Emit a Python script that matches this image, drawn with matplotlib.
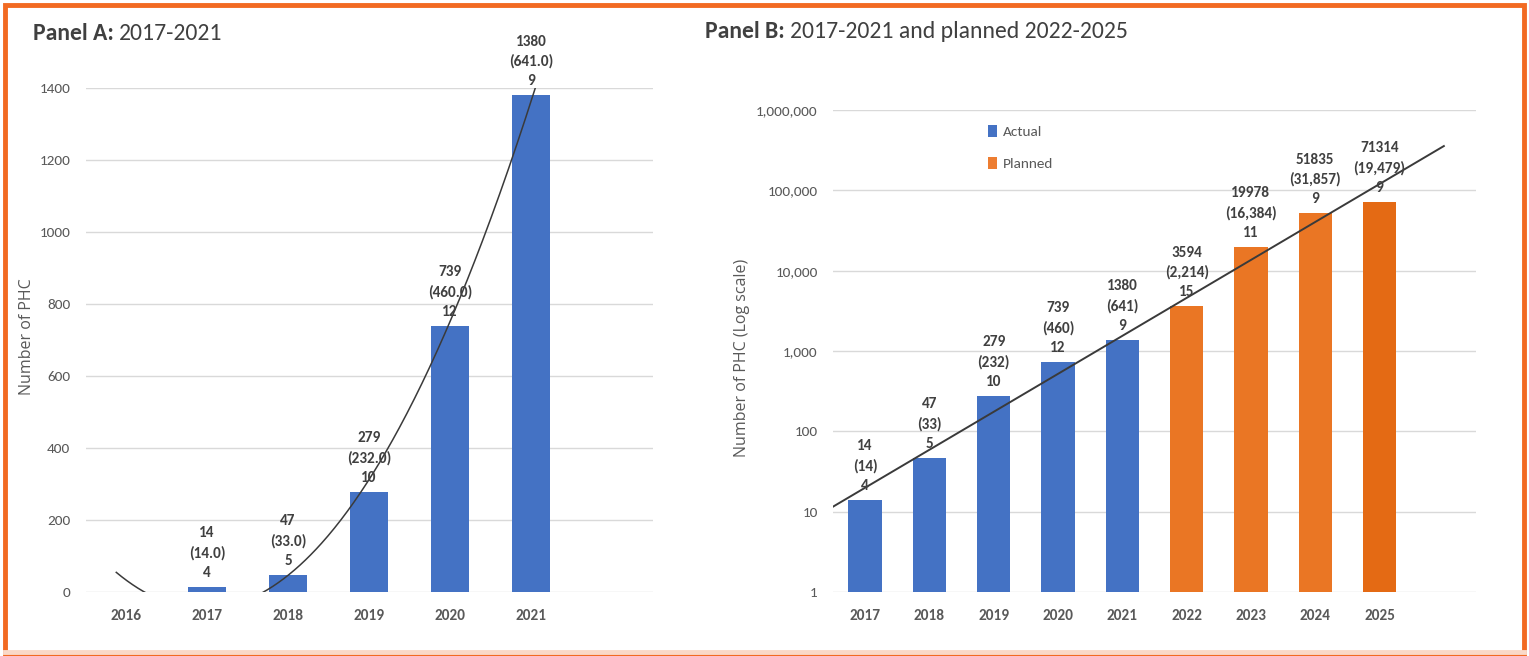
import matplotlib
matplotlib.use("Agg")
import matplotlib.pyplot as plt
import numpy as np
from matplotlib import font_manager
from matplotlib.patches import Patch, Rectangle
from matplotlib.lines import Line2D
from matplotlib.ticker import FuncFormatter, FixedLocator, NullLocator

# ---- data -------------------------------------------------------------
years_a = ["2016", "2017", "2018", "2019", "2020", "2021"]
phc_a = [0, 14, 47, 279, 739, 1380]          # cumulative PHC, none in 2016
added_a = ["", "(14.0)", "(33.0)", "(232.0)", "(460.0)", "(641.0)"]
count_a = ["", "4", "5", "10", "12", "9"]

years_b = ["2017", "2018", "2019", "2020", "2021", "2022", "2023", "2024", "2025"]
phc_b = [14, 47, 279, 739, 1380, 3594, 19978, 51835, 71314]
added_b = ["(14)", "(33)", "(232)", "(460)", "(641)", "(2,214)", "(16,384)", "(31,857)", "(19,479)"]
count_b = ["4", "5", "10", "12", "9", "15", "11", "9", "9"]
status_b = ["Actual"] * 5 + ["Planned"] * 4

# ---- style ------------------------------------------------------------
W, H, DPI = 1529, 656, 100
names = {f.name for f in font_manager.fontManager.ttflist}


def pick(*cands):
    for c in cands:
        if c in names:
            return c
    return "DejaVu Sans"


NARROW = pick("Carlito", "Liberation Sans Narrow", "Roboto Condensed", "Lato")
WIDE = pick("Open Sans", "Noto Sans")

BLUE = "#4472C4"
ORANGE = "#EA7624"
ORANGE_DARK = "#E46A14"
GRID = "#D9D9D9"
TICK = "#595959"
LABEL = "#404040"
FRAME = "#F26A22"

fig = plt.figure(figsize=(W / DPI, H / DPI), dpi=DPI)


def px_axes(left, top, right, bottom):
    return fig.add_axes([left / W, 1 - bottom / H, (right - left) / W, (bottom - top) / H])


def style_axes(ax):
    for s in ax.spines.values():
        s.set_visible(False)
    ax.tick_params(length=0)
    ax.grid(axis="y", color=GRID, linewidth=1.0)
    ax.set_axisbelow(True)
    for lab in ax.get_yticklabels():
        lab.set_fontfamily(NARROW)
        lab.set_fontsize(11)
        lab.set_color(TICK)
    for lab in ax.get_xticklabels():
        lab.set_fontfamily(NARROW)
        lab.set_fontsize(11)
        lab.set_fontweight("bold")
        lab.set_color(TICK)
    ax.tick_params(axis="y", pad=11)
    ax.tick_params(axis="x", pad=12)


def bar_labels(ax, xs, vals, added, counts):
    for x, v, a, c in zip(xs, vals, added, counts):
        if not a:
            continue
        ax.annotate(f"{v}\n{a}\n{c}", (x, v), xytext=(0, 5), textcoords="offset points",
                    ha="center", va="bottom", fontfamily=NARROW, fontsize=11,
                    fontweight="bold", color=LABEL, linespacing=1.5,
                    annotation_clip=False)


def panel_title(x_px, y_px, bold, rest):
    r = fig.canvas.get_renderer()
    t = fig.text(x_px / W, 1 - y_px / H, bold, fontfamily=NARROW, fontsize=17,
                 fontweight="bold", color=LABEL, va="center", ha="left")
    bb = t.get_window_extent(renderer=r)
    fig.text(bb.x1 / W + 5 / W, 1 - y_px / H, rest, fontfamily=NARROW, fontsize=17,
             color=LABEL, va="center", ha="left")


# ---- Panel A ----------------------------------------------------------
axA = px_axes(85.5, 88, 652.5, 592)
xa = np.arange(len(years_a))
axA.bar(xa, phc_a, width=0.48, color=BLUE, zorder=2)
axA.set_xlim(-0.5, len(years_a) + 0.5)
axA.set_ylim(0, 1400)
axA.yaxis.set_major_locator(FixedLocator(range(0, 1401, 200)))
axA.set_xticks(xa)
axA.set_xticklabels(years_a)
coef_a = np.polyfit(xa, phc_a, 2)
xs_a = np.linspace(-0.12, 5.2, 400)
axA.plot(xs_a, np.polyval(coef_a, xs_a), color="#3A3A3A", linewidth=1.1, zorder=3)
style_axes(axA)
bar_labels(axA, xa, phc_a, added_a, count_a)
axA.set_ylabel("Number of PHC", fontfamily=WIDE, fontsize=11.5, color=TICK)
axA.yaxis.set_label_coords((35 - 85.5) / 567, (592 - 337) / 504)

# ---- Panel B ----------------------------------------------------------
axB = px_axes(833, 110, 1476, 592)
xb = np.arange(len(years_b))
colors_b = [BLUE if s == "Actual" else ORANGE for s in status_b]
colors_b[-1] = ORANGE_DARK
axB.bar(xb, phc_b, width=0.52, color=colors_b, zorder=2)
axB.set_yscale("log")
axB.set_ylim(1, 1_000_000)
axB.set_xlim(-0.5, len(years_b) + 0.5)
axB.yaxis.set_major_locator(FixedLocator([10 ** k for k in range(7)]))
axB.yaxis.set_minor_locator(NullLocator())
axB.yaxis.set_major_formatter(FuncFormatter(lambda v, _: f"{v:,.0f}"))
axB.set_xticks(xb)
axB.set_xticklabels(years_b)
coef_b = np.polyfit(xb, np.log10(phc_b), 1)
xs_b = np.linspace(-0.5, 9.0, 200)
axB.plot(xs_b, 10 ** np.polyval(coef_b, xs_b), color="#3A3A3A", linewidth=1.4, zorder=3)
style_axes(axB)
bar_labels(axB, xb, phc_b, added_b, count_b)
axB.set_ylabel("Number of PHC (Log scale)", fontfamily=WIDE, fontsize=11.5, color=TICK)
axB.yaxis.set_label_coords((750 - 833) / 643, (592 - 358) / 482)

handles = [Patch(facecolor=BLUE, label="Actual"), Patch(facecolor="#ED7D31", label="Planned")]
leg = axB.legend(handles=handles, loc="upper left", bbox_to_anchor=(988 / W, 1 - 125 / H),
                 bbox_transform=fig.transFigure, frameon=False, handlelength=0.6,
                 handleheight=0.8, handletextpad=0.4, labelspacing=1.25,
                 borderaxespad=0, borderpad=0,
                 prop={"family": NARROW, "size": 11})
for t in leg.get_texts():
    t.set_color(TICK)

# ---- titles and frame -------------------------------------------------
panel_title(33, 34, "Panel A:", "2017-2021")
panel_title(705, 32, "Panel B:", "2017-2021 and planned 2022-2025")

fig.add_artist(Rectangle((5 / W, 0), 1 - 10 / W, 1 - 5 / H, transform=fig.transFigure,
                         fill=False, edgecolor=FRAME, linewidth=3.5))
fig.add_artist(Line2D([5 / W, 1 - 5 / W], [4 / H, 4 / H], transform=fig.transFigure,
                      color="#FAD9C8", linewidth=3.5))

fig.savefig("out.png", dpi=DPI)
